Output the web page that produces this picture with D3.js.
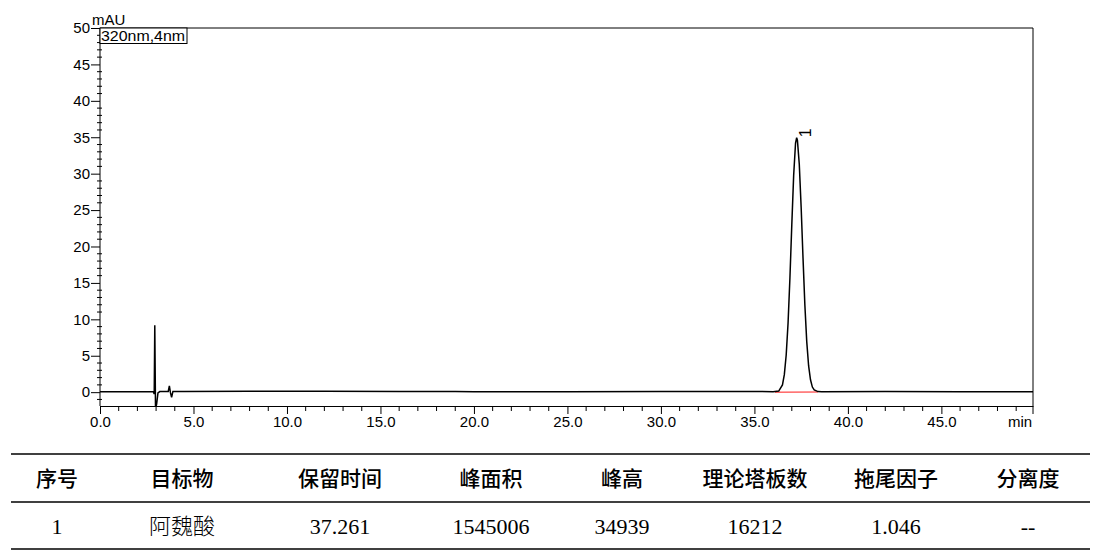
<!DOCTYPE html>
<html>
<head>
<meta charset="utf-8">
<script src="https://cdn.jsdelivr.net/npm/d3@7"></script>
<style>
  body { margin: 0; background: #fff; }
  svg { display: block; }
  .axis text { font-family: "Liberation Sans", Arial, sans-serif; font-size: 15px; fill: #000; }
  .axis path, .axis line { stroke: #000; }
</style>
</head>
<body>
<svg id="chart" width="1101" height="557"></svg>
<script>
// chart values
const yTicks = [0, 5, 10, 15, 20, 25, 30, 35, 40, 45, 50];
const xTicks = [0, 5, 10, 15, 20, 25, 30, 35, 40, 45];
const yUnit = "mAU";
const xUnit = "min";
const channel = "320nm,4nm";

// detector trace: [time (min), signal (mAU)]
const trace = [
  [0, 0.05], [1, 0.05], [2, 0.06], [2.85, 0.05], [2.9, -0.25], [2.93, 9.2],
  [2.97, -2.4], [3.03, -1.6], [3.1, -0.1], [3.2, 0.08], [3.65, 0.1],
  [3.71, 0.85], [3.77, -0.1], [3.83, -0.7], [3.9, 0.1], [4.5, 0.1],
  [8, 0.12], [12, 0.13], [16, 0.1], [19, 0.1], [20, 0.05], [25, 0.05],
  [30, 0.08], [35, 0.1], [36.0, 0.05], [36.3, 0.15], [36.5, 1.0],
  [36.6, 2.4], [36.7, 5.1], [36.8, 9.5], [36.9, 15.7], [37.0, 23.0],
  [37.1, 29.8], [37.2, 34.2], [37.26, 34.94], [37.3, 34.6], [37.4, 31.3],
  [37.5, 25.4], [37.6, 18.4], [37.7, 11.9], [37.8, 6.9], [37.9, 3.6],
  [38.0, 1.7], [38.1, 0.7], [38.2, 0.3], [38.4, 0.08], [38.6, 0.05],
  [42, 0.08], [46, 0.06], [49.9, 0.05]
];
// integration baseline under peak 1
const peakBaseline = [[36.1, 0.0], [38.4, 0.02]];
const peakNo = ["1"];
const peakTop = [[37.26, 34.94]];

// result table
const tableHead = ["序号", "目标物", "保留时间", "峰面积", "峰高", "理论塔板数", "拖尾因子", "分离度"];
const tableRow = ["1", "阿魏酸", "37.261", "1545006", "34939", "16212", "1.046", "--"];

const svg = d3.select("#chart");

const x = d3.scaleLinear().domain([0, 49.9]).range([100, 1033]);
const y = d3.scaleLinear().domain([-1.9, 50]).range([406, 28]);

// clip for the trace
svg.append("clipPath").attr("id", "plot")
  .append("rect")
  .attr("x", x(0)).attr("y", y(50))
  .attr("width", x(49.9) - x(0)).attr("height", y(-1.9) - y(50));

// frame (top and right)
svg.append("path")
  .attr("d", `M${x(0)},${y(50)}H${x(49.9)}V${y(-1.9)}`)
  .attr("fill", "none").attr("stroke", "#000");

// y axis
const yAxis = svg.append("g").attr("class", "axis")
  .attr("transform", `translate(${x(0)},0)`)
  .call(d3.axisLeft(y).tickValues(yTicks).tickSize(9).tickPadding(1).tickSizeOuter(0));
yAxis.select(".domain").attr("d", `M0,${y(50)}V${y(-1.9)}`);

// y minor ticks
svg.append("g").selectAll("line")
  .data(d3.range(-1, 51).filter(v => v % 5 !== 0))
  .join("line")
  .attr("x1", x(0) - 3).attr("x2", x(0) + 2)
  .attr("y1", d => y(d)).attr("y2", d => y(d))
  .attr("stroke", "#000");

// x axis
const xAxis = svg.append("g").attr("class", "axis")
  .attr("transform", `translate(0,${y(-1.9)})`)
  .call(d3.axisBottom(x).tickValues(xTicks).tickFormat(d3.format(".1f"))
    .tickSize(8).tickPadding(2).tickSizeOuter(0));
xAxis.append("line").attr("x1", x(49.9)).attr("x2", x(49.9)).attr("y1", 0).attr("y2", 8).attr("stroke", "#000");
xAxis.append("text").attr("x", x(49.9) - 13).attr("y", 10).attr("dy", "0.71em")
  .attr("text-anchor", "middle").text(xUnit);

// x minor ticks
svg.append("g").selectAll("line")
  .data(d3.range(1, 50).filter(v => v % 5 !== 0))
  .join("line")
  .attr("x1", d => x(d)).attr("x2", d => x(d))
  .attr("y1", y(-1.9) + 1).attr("y2", y(-1.9) + 5)
  .attr("stroke", "#000");

// unit + channel box
svg.append("text")
  .attr("x", 92).attr("y", 25)
  .style("font-family", "Liberation Sans, Arial, sans-serif").style("font-size", "15px")
  .text(yUnit);
svg.append("rect")
  .attr("x", x(0)).attr("y", y(50)).attr("width", 87).attr("height", 15.5)
  .attr("fill", "#fff").attr("stroke", "#000");
svg.append("text")
  .attr("x", x(0) + 1).attr("y", y(50) + 13)
  .attr("textLength", 84).attr("lengthAdjust", "spacingAndGlyphs")
  .style("font-family", "Liberation Sans, Arial, sans-serif").style("font-size", "15px")
  .text(channel);

// trace
const line = d3.line().x(d => x(d[0])).y(d => y(d[1]));
svg.append("path")
  .datum(peakBaseline)
  .attr("d", line)
  .attr("fill", "none").attr("stroke", "#ff6666").attr("stroke-width", 1.5);
svg.append("path")
  .datum(trace)
  .attr("clip-path", "url(#plot)")
  .attr("d", line)
  .attr("fill", "none").attr("stroke", "#000").attr("stroke-width", 1.5);

// peak number, rotated
svg.selectAll("text.peak")
  .data(peakTop)
  .join("text")
  .attr("class", "peak")
  .attr("transform", d => `translate(${x(d[0]) + 14},${y(d[1]) - 5}) rotate(-90)`)
  .attr("text-anchor", "middle")
  .style("font-family", "Liberation Sans, Arial, sans-serif").style("font-size", "16px")
  .text((d, i) => peakNo[i]);

// table
const colX = [57, 182, 340, 491, 622, 755, 896, 1028];
const rules = [454, 502, 549];
svg.append("g").selectAll("line")
  .data(rules)
  .join("line")
  .attr("x1", 11).attr("x2", 1090)
  .attr("y1", d => d).attr("y2", d => d)
  .attr("stroke", "#000").attr("stroke-width", 1.5);

svg.append("g").selectAll("text")
  .data(tableHead)
  .join("text")
  .attr("x", (d, i) => colX[i]).attr("y", 486)
  .attr("text-anchor", "middle")
  .style("font-family", "'Noto Sans CJK SC', sans-serif").style("font-size", "21px")
  .style("font-weight", 500)
  .text(d => d);

svg.append("g").selectAll("text")
  .data(tableRow)
  .join("text")
  .attr("x", (d, i) => colX[i]).attr("y", 534)
  .attr("text-anchor", "middle")
  .style("font-family", "'Liberation Serif', 'Noto Sans CJK SC', serif").style("font-size", "22px")
  .style("font-weight", 300)
  .text(d => d);
</script>
</body>
</html>
